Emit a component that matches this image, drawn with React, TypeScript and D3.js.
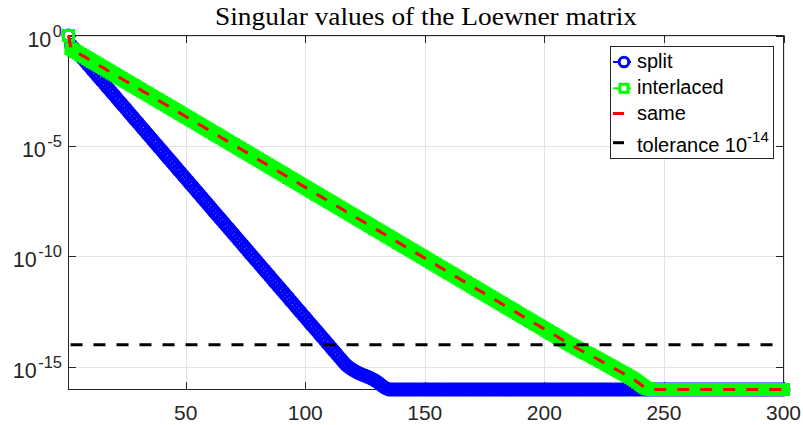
import React from 'react';
import * as d3 from 'd3';

// log10 of the singular values, index 1..300
const splitLog10 = [
  0, -0.43, -0.55, -0.68, -0.80, -0.93, -1.06, -1.18, -1.31, -1.43,
  -1.56, -1.69, -1.81, -1.94, -2.06, -2.19, -2.32, -2.44, -2.57, -2.69,
  -2.82, -2.95, -3.07, -3.20, -3.32, -3.45, -3.58, -3.70, -3.83, -3.95,
  -4.08, -4.21, -4.33, -4.46, -4.58, -4.71, -4.84, -4.96, -5.09, -5.21,
  -5.34, -5.47, -5.59, -5.72, -5.84, -5.97, -6.10, -6.22, -6.35, -6.47,
  -6.60, -6.73, -6.85, -6.98, -7.10, -7.23, -7.36, -7.48, -7.61, -7.73,
  -7.86, -7.99, -8.11, -8.24, -8.36, -8.49, -8.62, -8.74, -8.87, -8.99,
  -9.12, -9.25, -9.37, -9.50, -9.62, -9.75, -9.88, -10.00, -10.13, -10.25,
  -10.38, -10.51, -10.63, -10.76, -10.88, -11.01, -11.14, -11.26, -11.39, -11.51,
  -11.64, -11.77, -11.89, -12.02, -12.14, -12.27, -12.40, -12.52, -12.65, -12.77,
  -12.90, -13.03, -13.15, -13.28, -13.40, -13.53, -13.66, -13.78, -13.91, -14.03,
  -14.16, -14.29, -14.41, -14.54, -14.66, -14.79, -14.91, -15.00, -15.08, -15.15,
  -15.21, -15.27, -15.32, -15.37, -15.41, -15.45, -15.50, -15.55, -15.61, -15.68,
  -15.76, -15.85, -15.93, -15.99, -16.03, -16.03, -16.03, -16.03, -16.03, -16.03,
  -16.03, -16.03, -16.03, -16.03, -16.03, -16.03, -16.03, -16.03, -16.03, -16.03,
  -16.03, -16.03, -16.03, -16.03, -16.03, -16.03, -16.03, -16.03, -16.03, -16.03,
  -16.03, -16.03, -16.03, -16.03, -16.03, -16.03, -16.03, -16.03, -16.03, -16.03,
  -16.03, -16.03, -16.03, -16.03, -16.03, -16.03, -16.03, -16.03, -16.03, -16.03,
  -16.03, -16.03, -16.03, -16.03, -16.03, -16.03, -16.03, -16.03, -16.03, -16.03,
  -16.03, -16.03, -16.03, -16.03, -16.03, -16.03, -16.03, -16.03, -16.03, -16.03,
  -16.03, -16.03, -16.03, -16.03, -16.03, -16.03, -16.03, -16.03, -16.03, -16.03,
  -16.03, -16.03, -16.03, -16.03, -16.03, -16.03, -16.03, -16.03, -16.03, -16.03,
  -16.03, -16.03, -16.03, -16.03, -16.03, -16.03, -16.03, -16.03, -16.03, -16.03,
  -16.03, -16.03, -16.03, -16.03, -16.03, -16.03, -16.03, -16.03, -16.03, -16.03,
  -16.03, -16.03, -16.03, -16.03, -16.03, -16.03, -16.03, -16.03, -16.03, -16.03,
  -16.03, -16.03, -16.03, -16.03, -16.03, -16.03, -16.03, -16.03, -16.03, -16.03,
  -16.03, -16.03, -16.03, -16.03, -16.03, -16.03, -16.03, -16.03, -16.03, -16.03,
  -16.03, -16.03, -16.03, -16.03, -16.03, -16.03, -16.03, -16.03, -16.03, -16.03,
  -16.03, -16.03, -16.03, -16.03, -16.03, -16.03, -16.03, -16.03, -16.03, -16.03,
  -16.03, -16.03, -16.03, -16.03, -16.03, -16.03, -16.03, -16.03, -16.03, -16.03,
];

const interlacedLog10 = [
  0, -0.60, -0.66, -0.73, -0.79, -0.86, -0.92, -0.98, -1.05, -1.11,
  -1.18, -1.24, -1.30, -1.37, -1.43, -1.49, -1.56, -1.62, -1.69, -1.75,
  -1.81, -1.88, -1.94, -2.01, -2.07, -2.13, -2.20, -2.26, -2.32, -2.39,
  -2.45, -2.52, -2.58, -2.64, -2.71, -2.77, -2.84, -2.90, -2.96, -3.03,
  -3.09, -3.15, -3.22, -3.28, -3.35, -3.41, -3.47, -3.54, -3.60, -3.67,
  -3.73, -3.79, -3.86, -3.92, -3.98, -4.05, -4.11, -4.18, -4.24, -4.31,
  -4.37, -4.44, -4.50, -4.56, -4.63, -4.69, -4.76, -4.82, -4.89, -4.95,
  -5.01, -5.08, -5.14, -5.21, -5.27, -5.33, -5.40, -5.46, -5.53, -5.59,
  -5.66, -5.72, -5.78, -5.85, -5.91, -5.98, -6.04, -6.10, -6.17, -6.23,
  -6.30, -6.36, -6.43, -6.49, -6.55, -6.62, -6.68, -6.75, -6.81, -6.87,
  -6.94, -7.00, -7.07, -7.13, -7.20, -7.26, -7.32, -7.39, -7.45, -7.52,
  -7.58, -7.64, -7.71, -7.77, -7.84, -7.90, -7.97, -8.03, -8.09, -8.16,
  -8.22, -8.29, -8.35, -8.41, -8.48, -8.54, -8.61, -8.67, -8.74, -8.80,
  -8.86, -8.93, -8.99, -9.06, -9.12, -9.18, -9.25, -9.31, -9.38, -9.44,
  -9.51, -9.57, -9.63, -9.70, -9.76, -9.83, -9.89, -9.95, -10.02, -10.08,
  -10.15, -10.21, -10.28, -10.34, -10.40, -10.47, -10.53, -10.60, -10.66, -10.73,
  -10.79, -10.85, -10.92, -10.98, -11.05, -11.11, -11.17, -11.24, -11.30, -11.37,
  -11.43, -11.50, -11.56, -11.62, -11.69, -11.75, -11.82, -11.88, -11.94, -12.01,
  -12.07, -12.14, -12.20, -12.27, -12.33, -12.39, -12.46, -12.52, -12.59, -12.65,
  -12.72, -12.78, -12.84, -12.91, -12.97, -13.04, -13.10, -13.16, -13.23, -13.29,
  -13.36, -13.42, -13.49, -13.55, -13.61, -13.68, -13.74, -13.81, -13.87, -13.94,
  -14.00, -14.06, -14.12, -14.18, -14.24, -14.30, -14.36, -14.41, -14.46, -14.52,
  -14.58, -14.64, -14.70, -14.76, -14.82, -14.88, -14.94, -15.00, -15.06, -15.12,
  -15.18, -15.24, -15.30, -15.36, -15.42, -15.48, -15.55, -15.62, -15.70, -15.78,
  -15.86, -15.93, -15.98, -16.01, -16.03, -16.03, -16.03, -16.03, -16.03, -16.03,
  -16.03, -16.03, -16.03, -16.03, -16.03, -16.03, -16.03, -16.03, -16.03, -16.03,
  -16.03, -16.03, -16.03, -16.03, -16.03, -16.03, -16.03, -16.03, -16.03, -16.03,
  -16.03, -16.03, -16.03, -16.03, -16.03, -16.03, -16.03, -16.03, -16.03, -16.03,
  -16.03, -16.03, -16.03, -16.03, -16.03, -16.03, -16.03, -16.03, -16.03, -16.03,
  -16.03, -16.03, -16.03, -16.03, -16.03, -16.03, -16.03, -16.03, -16.03, -16.03,
];

// "same" coincides with the interlaced values
const sameLog10 = interlacedLog10;

const toleranceValue = 1e-14;
const xDomain = [1, 300];
const yDomainLog10 = [-16.03, 0];
const xTicks = [50, 100, 150, 200, 250, 300];
const yTickExponents = [0, -5, -10, -15];
const legendLabels = ['split', 'interlaced', 'same', 'tolerance 10'];
const toleranceExpLabel = '-14';
const chartTitle = 'Singular values of the Loewner matrix';

const AX = '#262626';
const GRID = '#e3e3e3';
const SANS = 'Liberation Sans, Arial, Helvetica, sans-serif';

export default function App() {
  const W = 803;
  const H = 425;
  const left = 68.5, right = 783.5, top = 35.5, bottom = 389.5;

  const x = d3.scaleLinear().domain(xDomain).range([left, right]);
  const y = d3
    .scaleLog()
    .domain([Math.pow(10, yDomainLog10[0]), Math.pow(10, yDomainLog10[1])])
    .range([bottom, top]);

  const toPts = (arr: number[]) => arr.map((v, i) => [i + 1, Math.pow(10, v)] as [number, number]);
  const splitPts = toPts(splitLog10);
  const interPts = toPts(interlacedLog10);
  const samePts = toPts(sameLog10);

  const line = d3
    .line<[number, number]>()
    .x((d) => x(d[0]))
    .y((d) => y(d[1]));

  const tolPts: [number, number][] = [
    [xDomain[0], toleranceValue],
    [xDomain[1], toleranceValue],
  ];

  const tickLen = 7.5;
  const sq = 10;

  const lgX = 610.5, lgY = 46.5, lgW = 163, lgH = 112;
  const rows = [62, 88.3, 113.5, 142.7];
  const baselines = [68.3, 94.3, 120, 151.5];
  const sx0 = 613, sx1 = 631, mx = 624;

  return (
    <svg
      width={W}
      height={H}
      style={{ position: 'absolute', left: 0, top: 0, background: '#fff' }}
      xmlns="http://www.w3.org/2000/svg"
    >
      <rect x={0} y={0} width={W} height={H} fill="#fff" />
      {/* title */}
      <text
        x={(left + right) / 2}
        y={25}
        textAnchor="middle"
        fontFamily="Liberation Serif, Times New Roman, serif"
        fontSize={25.5}
        textLength={422}
        lengthAdjust="spacingAndGlyphs"
        fill="#000"
      >
        {chartTitle}
      </text>

      {/* grid */}
      <g stroke={GRID} strokeWidth={1}>
        {xTicks.map((t) => (
          <line key={'gx' + t} x1={Math.round(x(t)) + 0.5} x2={Math.round(x(t)) + 0.5} y1={top} y2={bottom} />
        ))}
        {yTickExponents.map((e) => (
          <line key={'gy' + e} x1={left} x2={right} y1={Math.round(y(Math.pow(10, e))) + 0.5} y2={Math.round(y(Math.pow(10, e))) + 0.5} />
        ))}
      </g>

      {/* axes box and ticks */}
      <g stroke={AX} strokeWidth={1} fill="none">
        <rect x={left} y={top} width={right - left} height={bottom - top} />
        {xTicks.map((t) => {
          const px = Math.round(x(t)) + 0.5;
          return (
            <g key={'tx' + t}>
              <line x1={px} x2={px} y1={bottom} y2={bottom - tickLen} />
              <line x1={px} x2={px} y1={top} y2={top + tickLen} />
            </g>
          );
        })}
        {yTickExponents.map((e) => {
          const py = Math.round(y(Math.pow(10, e))) + 0.5;
          return (
            <g key={'ty' + e}>
              <line x1={left} x2={left + tickLen} y1={py} y2={py} />
              <line x1={right} x2={right - tickLen} y1={py} y2={py} />
            </g>
          );
        })}
      </g>

      {/* tick labels */}
      <g fontFamily={SANS} fill={AX}>
        {xTicks.map((t) => (
          <text key={'lx' + t} x={x(t)} y={420} textAnchor="middle" fontSize={21}>
            {t}
          </text>
        ))}
        {yTickExponents.map((e) => (
          <text key={'ly' + e} x={62} y={y(Math.pow(10, e)) + 11} textAnchor="end" fontSize={21.5}>
            <tspan>10</tspan>
            <tspan dy={-10} dx={1.5} fontSize={16.5}>
              {String(e)}
            </tspan>
          </text>
        ))}
      </g>

      {/* split */}
      <path d={line(splitPts) || ''} fill="none" stroke="#0000ff" strokeWidth={2} />
      <g fill="none" stroke="#0000ff" strokeWidth={3}>
        {splitPts.map((d, i) => (
          <circle key={'c' + i} cx={x(d[0])} cy={y(d[1])} r={5.5} />
        ))}
      </g>

      {/* interlaced */}
      <path d={line(interPts) || ''} fill="none" stroke="#00ff00" strokeWidth={2} />
      <g fill="none" stroke="#00ff00" strokeWidth={3}>
        {interPts.map((d, i) => (
          <rect key={'s' + i} x={x(d[0]) - sq / 2} y={y(d[1]) - sq / 2} width={sq} height={sq} />
        ))}
      </g>

      {/* same */}
      <path d={line(samePts) || ''} fill="none" stroke="#ff0000" strokeWidth={3} strokeDasharray="12 11" />

      {/* tolerance */}
      <path d={line(tolPts) || ''} fill="none" stroke="#000" strokeWidth={3} strokeDasharray="12 11" strokeDashoffset={-2} />

      {/* legend */}
      <rect x={lgX} y={lgY} width={lgW} height={lgH} fill="#fff" stroke={AX} strokeWidth={1} />
      <g>
        <line x1={sx0} x2={sx1} y1={rows[0]} y2={rows[0]} stroke="#0000ff" strokeWidth={2} />
        <circle cx={mx} cy={rows[0]} r={4.8} fill="#fff" stroke="#0000ff" strokeWidth={3} />
        <line x1={sx0} x2={sx1} y1={rows[1]} y2={rows[1]} stroke="#00ff00" strokeWidth={2} />
        <rect x={mx - 4} y={rows[1] - 4} width={8} height={8} fill="#fff" stroke="#00ff00" strokeWidth={3} />
        <line x1={sx0} x2={sx1} y1={rows[2]} y2={rows[2]} stroke="#ff0000" strokeWidth={3} strokeDasharray="11 12" />
        <line x1={sx0} x2={sx1} y1={rows[3]} y2={rows[3]} stroke="#000" strokeWidth={3} strokeDasharray="11 12" />
      </g>
      <g fontFamily={SANS} fontSize={20} fill="#000">
        {legendLabels.map((l, i) => (
          <text key={'lg' + i} x={637} y={baselines[i]}>
            <tspan>{l}</tspan>
            {i === 3 ? (
              <tspan dy={-10} fontSize={15}>
                {toleranceExpLabel}
              </tspan>
            ) : null}
          </text>
        ))}
      </g>
    </svg>
  );
}
